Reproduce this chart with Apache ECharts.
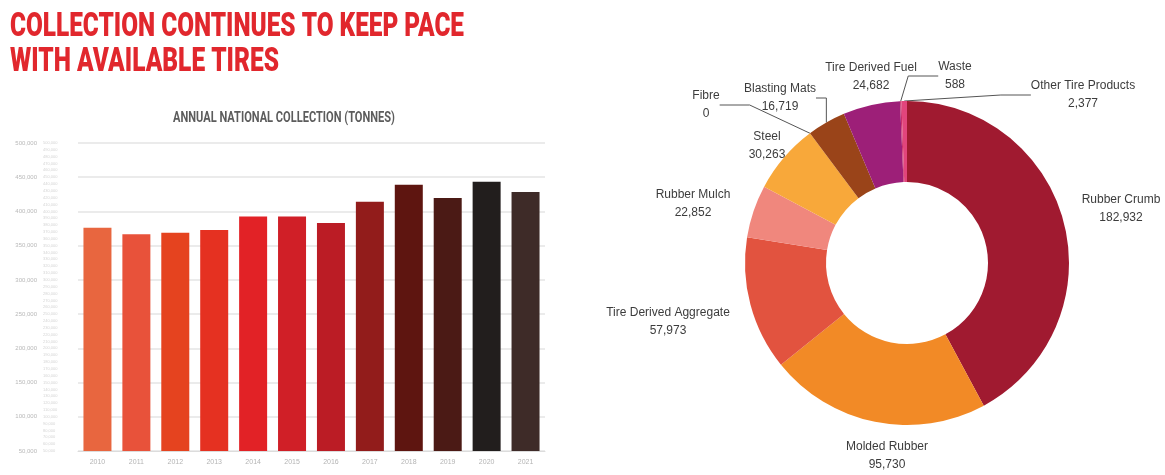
<!DOCTYPE html>
<html>
<head>
<meta charset="utf-8">
<script src="https://cdn.jsdelivr.net/npm/echarts@6/dist/echarts.min.js"></script>
<style>
  html, body { margin: 0; padding: 0; background: #ffffff; }
  #chart { width: 1165px; height: 475px; }
</style>
</head>
<body>
<div id="chart"></div>
<script>
// Annual national collection (tonnes)
const years = ['2010', '2011', '2012', '2013', '2014', '2015', '2016', '2017', '2018', '2019', '2020', '2021'];
const collectionTonnes = [376000, 366500, 369000, 373000, 392500, 392500, 383000, 414000, 439000, 419500, 443500, 428500];
const barColors = ['#e8663f', '#e8523a', '#e5431f', '#e53121', '#e22226', '#d01f27',
                   '#bb1c25', '#921c1b', '#5e1510', '#4b1a15', '#221e1d', '#3e2b28'];
const yAxisMin = 50000;
const yAxisMax = 500000;
const yMajorStep = 50000;
const yMinorStep = 10000;

// Where the recovered material went (tonnes)
const outputNames = ['Rubber Crumb', 'Molded Rubber', 'Tire Derived Aggregate', 'Rubber Mulch', 'Steel',
                     'Fibre', 'Blasting Mats', 'Tire Derived Fuel', 'Waste', 'Other Tire Products'];
const outputTonnes = [182932, 95730, 57973, 22852, 30263, 0, 16719, 24682, 588, 2377];
const sliceColors = ['#a01a30', '#f28a26', '#e2533f', '#f0877d', '#f8a83a',
                     '#c46a2a', '#9a4419', '#9d1f78', '#c8306a', '#e2457c'];
const namesWithLeader = ['Fibre', 'Blasting Mats', 'Waste', 'Other Tire Products'];

const titleLines = ['COLLECTION CONTINUES TO KEEP PACE', 'WITH AVAILABLE TIRES'];
const subtitle = 'ANNUAL NATIONAL COLLECTION (TONNES)';

// Label anchor points around the ring (centre of each two-line label)
const labelSpots = {
  'Rubber Crumb': [1121, 209],
  'Molded Rubber': [887, 456],
  'Tire Derived Aggregate': [668, 322],
  'Rubber Mulch': [693, 204],
  'Steel': [767, 146],
  'Fibre': [706, 105],
  'Blasting Mats': [780, 98],
  'Tire Derived Fuel': [871, 77],
  'Waste': [955, 76],
  'Other Tire Products': [1083, 95]
};

const fmt = v => Number(v).toLocaleString('en-US');

function textWidth(text, font) {
  const ctx = document.createElement('canvas').getContext('2d');
  ctx.font = font;
  return ctx.measureText(text).width;
}

const titleFont = '900 33px Roboto';
const subFont = 'bold 14px Roboto';
const titleScales = [454 / textWidth(titleLines[0], titleFont), 269 / textWidth(titleLines[1], titleFont)];
const subScale = 222 / textWidth(subtitle, subFont);

const chart = echarts.init(document.getElementById('chart'), null, { renderer: 'canvas' });

const option = {
  backgroundColor: '#ffffff',
  animation: false,
  graphic: [
    {
      type: 'text', x: 10, y: 11, scaleX: titleScales[0],
      style: { text: titleLines[0], font: titleFont, fill: '#e1272d', verticalAlign: 'top', textVerticalAlign: 'top' }
    },
    {
      type: 'text', x: 10, y: 46, scaleX: titleScales[1],
      style: { text: titleLines[1], font: titleFont, fill: '#e1272d', verticalAlign: 'top', textVerticalAlign: 'top' }
    },
    {
      type: 'text', x: 173, y: 111, scaleX: subScale,
      style: { text: subtitle, font: subFont, fill: '#5c5c5c', verticalAlign: 'top', textVerticalAlign: 'top' }
    }
  ],
  grid: { left: 78, top: 143, width: 467, height: 308, containLabel: false },
  xAxis: {
    type: 'category',
    data: years,
    axisLine: { show: true, lineStyle: { color: '#dcdcdc', width: 1 } },
    axisTick: { show: false },
    axisLabel: { color: '#b4b4b4', fontSize: 7, margin: 8, fontFamily: 'Liberation Sans' }
  },
  yAxis: [
    {
      type: 'value',
      position: 'left',
      min: yAxisMin, max: yAxisMax, interval: yMajorStep,
      axisLine: { show: false },
      axisTick: { show: false },
      axisLabel: { color: '#b8b8b8', fontSize: 6, margin: 41, fontFamily: 'Liberation Sans', formatter: fmt },
      splitLine: { show: true, lineStyle: { color: '#e4e4e4', width: 1.5 } }
    },
    {
      type: 'value',
      position: 'left',
      min: yAxisMin, max: yAxisMax, interval: yMinorStep,
      axisLine: { show: false },
      axisTick: { show: false },
      axisLabel: { color: '#d4d4d4', fontSize: 4, margin: 35, align: 'left', fontFamily: 'Liberation Sans', formatter: fmt },
      splitLine: { show: false }
    }
  ],
  series: [
    {
      type: 'bar',
      yAxisIndex: 0,
      barWidth: 28,
      data: collectionTonnes.map((v, i) => ({ value: v, itemStyle: { color: barColors[i] } }))
    },
    {
      type: 'pie',
      center: [907, 263],
      radius: [81, 162],
      startAngle: 90,
      clockwise: true,
      avoidLabelOverlap: false,
      label: {
        show: true,
        position: 'outside',
        color: '#3c3c3c',
        fontSize: 12,
        lineHeight: 18,
        fontFamily: 'Liberation Sans',
        formatter: p => p.name + '\n' + fmt(p.value)
      },
      labelLine: { show: true, lineStyle: { color: '#555555', width: 1 } },
      labelLayout: params => {
        const name = outputNames[params.dataIndex];
        const spot = labelSpots[name];
        return { x: spot[0], y: spot[1], align: 'center', verticalAlign: 'middle' };
      },
      data: outputNames.map((name, i) => ({
        name: name,
        value: outputTonnes[i],
        itemStyle: { color: sliceColors[i] },
        labelLine: { show: namesWithLeader.indexOf(name) >= 0 }
      }))
    }
  ]
};

chart.setOption(option);
</script>
</body>
</html>
